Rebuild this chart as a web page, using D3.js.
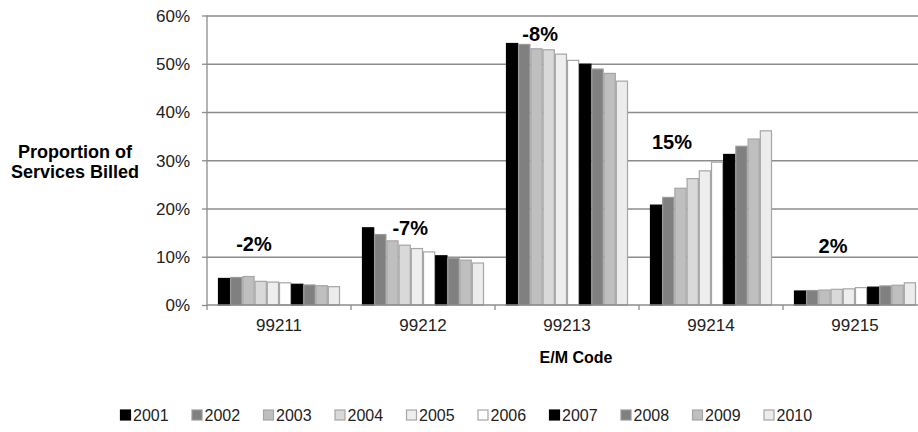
<!DOCTYPE html>
<html>
<head>
<meta charset="utf-8">
<script src="https://cdn.jsdelivr.net/npm/d3@7"></script>
<style>
  html, body { margin: 0; padding: 0; background: #fff; }
  svg { display: block; font-family: "Liberation Sans", Arial, sans-serif; }
</style>
</head>
<body>
<svg id="chart" width="918" height="432"></svg>
<script>
// ---- data ----
const categories = ["99211", "99212", "99213", "99214", "99215"];
const years = ["2001","2002","2003","2004","2005","2006","2007","2008","2009","2010"];
const v99211 = [5.5, 5.7, 5.9, 4.9, 4.75, 4.6, 4.3, 4.15, 4.0, 3.8];
const v99212 = [16.0, 14.6, 13.3, 12.4, 11.7, 11.0, 10.2, 9.7, 9.3, 8.7];
const v99213 = [54.2, 54.0, 53.1, 52.9, 52.0, 50.7, 49.9, 48.9, 48.0, 46.4];
const v99214 = [20.7, 22.3, 24.2, 26.2, 27.8, 29.6, 31.2, 32.9, 34.4, 36.1];
const v99215 = [2.9, 3.0, 3.1, 3.25, 3.35, 3.6, 3.7, 3.95, 4.1, 4.6];
const seriesByCategory = [v99211, v99212, v99213, v99214, v99215];
const changeLabels = ["-2%", "-7%", "-8%", "15%", "2%"];
// anchor of each change label: level (percent) and year slot it is centred on
const changeLevels = [11.2, 14.5, 54.7, 32.3, 10.8];
const changeSlots = [2.45, 3.45, 2.3, 1.3, 2.7];
const yTicks = [0, 10, 20, 30, 40, 50, 60];

// ---- styles ----
const fills = ["#000000","#808080","#bfbfbf","#d9d9d9","#eeeeee","#ffffff","#000000","#808080","#bfbfbf","#ececec"];
const strokes = ["#000000","#9a9a9a","#a6a6a6","#a6a6a6","#a6a6a6","#a6a6a6","#000000","#9a9a9a","#a6a6a6","#a6a6a6"];
const axisColor = "#8c8c8c";

const svg = d3.select("#chart");
const plot = { left: 207, right: 927, top: 15.5, bottom: 305 };

const x0 = d3.scaleBand().domain(categories).range([plot.left, plot.right]).padding(0);
const groupGap = x0.bandwidth() * 0.0764;
const x1 = d3.scaleBand().domain(years).range([groupGap, x0.bandwidth() - groupGap]).padding(0);
const y = d3.scaleLinear().domain([0, 60]).range([plot.bottom, plot.top]);

// gridlines
const grid = svg.append("g").attr("transform", `translate(${plot.left},0)`)
  .call(d3.axisLeft(y).tickValues(yTicks.slice(1)).tickSize(-(plot.right - plot.left)).tickFormat(""));
grid.select(".domain").remove();
grid.selectAll("line").attr("stroke", axisColor).attr("stroke-width", 1.3);

// y axis
const yAxis = svg.append("g").attr("transform", `translate(${plot.left},0)`)
  .call(d3.axisLeft(y).tickValues(yTicks).tickSize(5).tickPadding(12).tickFormat(d => d + "%"));
yAxis.select(".domain").attr("stroke", axisColor).attr("stroke-width", 1.3).attr("d", `M0,${plot.top}V${plot.bottom}`);
yAxis.selectAll("line").attr("stroke", axisColor).attr("stroke-width", 1.3);
yAxis.selectAll("text").attr("font-size", 17).attr("fill", "#222").attr("dy", "0.35em");

// bars
const groups = svg.append("g").selectAll("g").data(categories).join("g")
  .attr("transform", d => `translate(${x0(d)},0)`);
groups.selectAll("rect").data((d, i) => seriesByCategory[i].map((v, j) => ({ year: years[j], v, j })))
  .join("rect")
  .attr("x", d => x1(d.year) + 0.5)
  .attr("width", x1.bandwidth() - 1)
  .attr("y", d => y(d.v))
  .attr("height", d => y(0) - y(d.v))
  .attr("fill", d => fills[d.j])
  .attr("stroke", d => strokes[d.j])
  .attr("stroke-width", 1.2);

// x axis
const xAxis = svg.append("g").attr("transform", `translate(0,${plot.bottom})`)
  .call(d3.axisBottom(x0).tickSize(0).tickPadding(14));
xAxis.select(".domain").attr("stroke", axisColor).attr("stroke-width", 1.3)
  .attr("d", `M${plot.left},0H${plot.right}`);
xAxis.selectAll("text").attr("font-size", 17).attr("fill", "#222");
const boundaries = categories.map(c => x0(c)).concat([plot.right]);
svg.append("g").selectAll("line").data(boundaries).join("line")
  .attr("x1", d => d).attr("x2", d => d)
  .attr("y1", plot.bottom).attr("y2", plot.bottom + 5)
  .attr("stroke", axisColor).attr("stroke-width", 1.3);

// change labels
svg.append("g").selectAll("text").data(changeLabels).join("text")
  .attr("x", (d, i) => x0(categories[i]) + groupGap + x1.bandwidth() * (changeSlots[i] + 0.5))
  .attr("y", (d, i) => y(changeLevels[i]))
  .attr("text-anchor", "middle")
  .attr("font-size", 20).attr("font-weight", "bold").attr("fill", "#000")
  .text(d => d);

// axis titles
const yTitle = svg.append("text").attr("text-anchor", "middle")
  .attr("font-size", 18).attr("font-weight", "bold").attr("fill", "#000");
yTitle.append("tspan").attr("x", 75).attr("y", 158).text("Proportion of");
yTitle.append("tspan").attr("x", 75).attr("y", 178).text("Services Billed");

svg.append("text").attr("x", 576).attr("y", 363).attr("text-anchor", "middle")
  .attr("font-size", 16).attr("font-weight", "bold").attr("fill", "#000").text("E/M Code");

// legend
const legend = svg.append("g").selectAll("g").data(years).join("g")
  .attr("transform", (d, i) => `translate(${120 + i * 71.5},${415})`);
legend.append("rect").attr("x", 0.5).attr("y", -5).attr("width", 10).attr("height", 10)
  .attr("fill", (d, i) => fills[i]).attr("stroke", (d, i) => strokes[i]).attr("stroke-width", 1.2);
legend.append("text").attr("x", 13).attr("y", 0).attr("dy", "0.35em")
  .attr("font-size", 16).attr("fill", "#222").text(d => d);
</script>
</body>
</html>
